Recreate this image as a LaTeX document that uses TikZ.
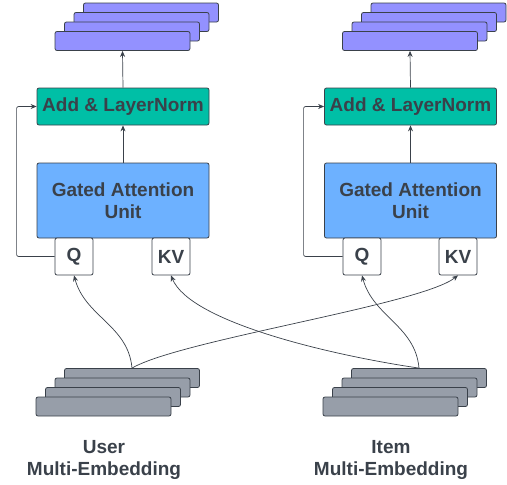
\documentclass[tikz,border=0pt]{standalone}
\usepackage{fontspec}
\setmainfont{Liberation Sans}
\usetikzlibrary{arrows.meta,positioning}
\definecolor{ink}{HTML}{3A414A}
\definecolor{outfill}{HTML}{9391FF}
\definecolor{normfill}{HTML}{00BFA6}
\definecolor{gaufill}{HTML}{6DB1FF}
\definecolor{embfill}{HTML}{979EA9}
\begin{document}
\begin{tikzpicture}[x=1pt, y=-1pt,
    every node/.style={draw=ink, rounded corners=2pt, line width=0.8pt, inner sep=0pt, text=ink,
      font=\bfseries\fontsize{19}{22}\selectfont},
    bar/.style={minimum width=135pt, minimum height=19pt},
    link/.style={draw=ink, line width=0.7pt, -{Stealth[length=6pt,width=5pt]}}]
                \useasboundingbox (0,0) rectangle (507,485);

                % output stacks
                \foreach \i in {4,3,2,1} {
                    \node[bar, fill=outfill] (lout\i) at ({122.5+9.5*(\i-1)},{41-9.5*(\i-1)}) {};
                    \node[bar, fill=outfill] (rout\i) at ({410+9.5*(\i-1)},{41-9.5*(\i-1)}) {};
                }

                % attention blocks
                \node[fill=normfill, minimum width=172pt, minimum height=37pt] (laln) at (123,106.5) {Add \& LayerNorm};
                \node[fill=normfill, minimum width=172pt, minimum height=37pt] (raln) at (410.5,106.5) {Add \& LayerNorm};
                \node[fill=gaufill, minimum width=172pt, minimum height=75pt, align=center] (lgau) at (123,200.5) {Gated Attention\\Unit};
                \node[fill=gaufill, minimum width=172pt, minimum height=75pt, align=center] (rgau) at (410.5,200.5) {Gated Attention\\Unit};
                \node[fill=white, minimum width=38pt, minimum height=37pt] (lq) at (74,256.5) {Q};
                \node[fill=white, minimum width=38pt, minimum height=37pt] (lkv) at (171,256.5) {KV};
                \node[fill=white, minimum width=38pt, minimum height=37pt] (rq) at (362,256.5) {Q};
                \node[fill=white, minimum width=38pt, minimum height=37pt] (rkv) at (458,256.5) {KV};

                % embedding stacks
                \foreach \i in {4,3,2,1} {
                    \node[bar, fill=embfill] (uemb\i) at ({103.5+9.5*(\i-1)},{406.5-9.5*(\i-1)}) {};
                    \node[bar, fill=embfill] (iemb\i) at ({390.5+9.5*(\i-1)},{406.5-9.5*(\i-1)}) {};
                }
                \node[draw=none, align=center] (ulabel) at (104,460) {User\\Multi-Embedding};
                \node[draw=none, align=center] (ilabel) at (391,460) {Item\\Multi-Embedding};

                % links
                \draw[link] (lgau.north) -- (laln.south);
                \draw[link] (laln.north) -- (lout1.south);
                \draw[link] (rgau.north) -- (raln.south);
                \draw[link] (raln.north) -- (rout1.south);
                \draw[link, rounded corners=2pt] (lq.west) -- ++(-38,0) |- (laln.west);
                \draw[link, rounded corners=2pt] (rq.west) -- ++(-39,0) |- (raln.west);

                % cross links
                \draw[link] (uemb4.north) to[out=95, in=-75] (lq.south);
                \draw[link] (uemb4.north) .. controls (180,340) and (420,305) .. (rkv.south);
                \draw[link] (iemb4.north) to[out=95, in=-75] (rq.south);
                \draw[link] (iemb4.north) .. controls (330,355) and (190,322) .. (lkv.south);
            \end{tikzpicture}
\end{document}
